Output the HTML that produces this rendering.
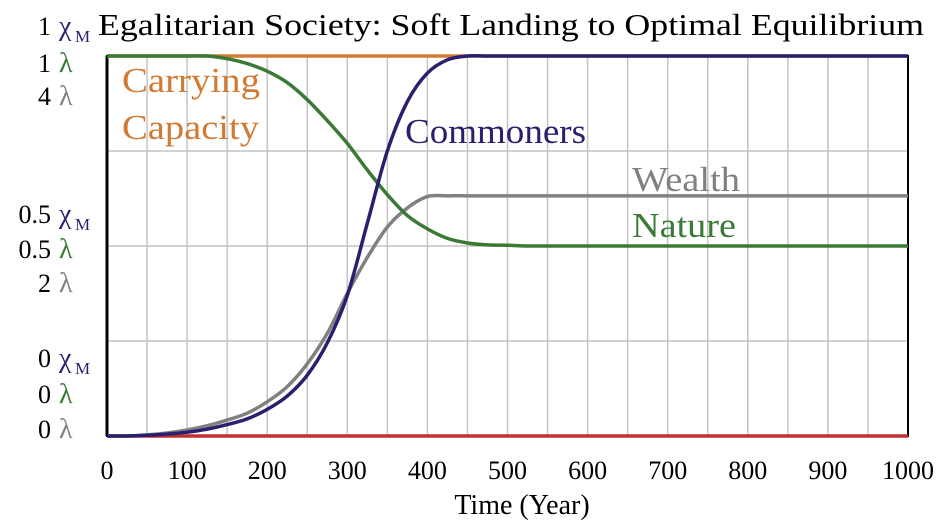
<!DOCTYPE html>
<html><head><meta charset="utf-8"><style>
body{margin:0;background:#fff}
svg text{font-family:"Liberation Serif",serif}
</style></head><body>
<svg id="c" width="950" height="525">
<text x="98" y="35" font-size="31" fill="#000" textLength="826" lengthAdjust="spacingAndGlyphs">Egalitarian Society: Soft Landing to Optimal Equilibrium</text>
<g id="grid"></g>
<g id="left" font-size="26"></g>
<g id="series"></g>
<g id="xt" font-size="26"></g>
<text x="522" y="514" font-size="28" text-anchor="middle">Time (Year)</text>
<text x="122" y="92" font-size="35" fill="#d27a32" textLength="138" lengthAdjust="spacingAndGlyphs">Carrying</text>
<text x="122" y="139" font-size="35" fill="#d27a32" textLength="137" lengthAdjust="spacingAndGlyphs">Capacity</text>
<text x="405" y="143" font-size="35" fill="#2a1f6e" textLength="181" lengthAdjust="spacingAndGlyphs">Commoners</text>
<text x="632" y="191" font-size="35" fill="#808080" textLength="108" lengthAdjust="spacingAndGlyphs">Wealth</text>
<text x="632" y="237" font-size="35" fill="#3a7a35" textLength="104" lengthAdjust="spacingAndGlyphs">Nature</text>
</svg>
<script>
const years=[0,25,50,75,100,125,150,175,200,225,250,275,300,325,350,375,400,425,450,475,500,525,550,600,700,800,900,1000];
const commoners=[0,0,0.002,0.005,0.01,0.018,0.03,0.045,0.07,0.105,0.16,0.245,0.37,0.56,0.75,0.88,0.955,0.99,1,1,1,1,1,1,1,1,1,1];
const wealth=[0,0,0.003,0.008,0.016,0.027,0.042,0.06,0.09,0.13,0.19,0.27,0.375,0.47,0.55,0.6,0.63,0.632,0.632,0.632,0.632,0.632,0.632,0.632,0.632,0.632,0.632,0.632];
const nature=[1,1,1,1,1,1,0.993,0.98,0.96,0.93,0.885,0.83,0.77,0.7,0.635,0.58,0.545,0.52,0.508,0.503,0.502,0.5,0.5,0.5,0.5,0.5,0.5,0.5];
const carrying=[1,1,1,1,1,1,1,1,1,1,1,1,1,1,1,1,1,1,1,1,1,1,1,1,1,1,1,1];
const redLine=[0,0,0,0,0,0,0,0,0,0,0,0,0,0,0,0,0,0,0,0,0,0,0,0,0,0,0,0];
const xTicks=[0,100,200,300,400,500,600,700,800,900,1000];
const X0=107,X1=908,Y0=436,Y1=56;
const sx=v=>X0+(X1-X0)*v/1000, sy=v=>Y0-(Y0-Y1)*v;
const NS="http://www.w3.org/2000/svg";
function mk(tag,attrs,parent){const e=document.createElementNS(NS,tag);for(const k in attrs)e.setAttribute(k,attrs[k]);parent.appendChild(e);return e;}
const grid=document.getElementById('grid');
for(let y=50;y<1000;y+=50){const l=mk('line',{x1:sx(y),x2:sx(y),y1:Y1,y2:Y0,stroke:'#c4c4c4','stroke-width':1.5},grid);

}
for(const f of [0.25,0.5,0.75]){const l=mk('line',{x1:X0,x2:X1,y1:sy(f),y2:sy(f),stroke:'#c4c4c4','stroke-width':1.5},grid);

}
const fr=mk('rect',{x:X0,y:Y1,width:X1-X0,height:Y0-Y1,fill:'none',stroke:'#000','stroke-width':2},grid);


const ax=mk('line',{x1:X0,x2:X0,y1:Y1,y2:Y0,stroke:'#000','stroke-width':3},grid);


const xt=document.getElementById('xt');
xTicks.forEach(t=>{const e=mk('text',{x:sx(t),y:479,'text-anchor':'middle'},xt);e.textContent=t;

});
const left=document.getElementById('left');
const lab=[[35,'1','χ','#2a1f6e',true],[72,'1','λ','#3a7a35'],[105,'4','λ','#808080'],[223,'0.5','χ','#2a1f6e',true],[258,'0.5','λ','#3a7a35'],[292,'2','λ','#808080'],[367,'0','χ','#2a1f6e',true],[403,'0','λ','#3a7a35'],[438,'0','λ','#808080']];
lab.forEach(a=>{const t=mk('text',{x:51,y:a[0],'text-anchor':'end'},left);t.textContent=a[1];


const s=mk('text',{x:59,y:a[0],fill:a[3],'font-size':28},left);s.textContent=a[2];


if(a[4]){const m=mk('text',{x:75,y:a[0]+7,fill:a[3],'font-size':17},left);m.textContent='M';

}});
function path(vals){const p=years.map((y,i)=>[sx(y),sy(vals[i])]);let d='M'+p[0][0]+','+p[0][1];
for(let i=0;i<p.length-1;i++){const p0=p[Math.max(0,i-1)],p1=p[i],p2=p[i+1],p3=p[Math.min(p.length-1,i+2)];
const c1=[p1[0]+(p2[0]-p0[0])/6,p1[1]+(p2[1]-p0[1])/6],c2=[p2[0]-(p3[0]-p1[0])/6,p2[1]-(p3[1]-p1[1])/6];
d+=` C${c1[0]},${c1[1]} ${c2[0]},${c2[1]} ${p2[0]},${p2[1]}`;}return d;}
const ser=document.getElementById('series');
[[carrying,'#d27a32','carrying-capacity-line'],[redLine,'#c03030','zero-line'],[wealth,'#808080','wealth-line'],[nature,'#3a7a35','nature-line'],[commoners,'#2a1f6e','commoners-line']].forEach(s=>{
const e=mk('path',{d:path(s[0]),fill:'none',stroke:s[1],'stroke-width':3.5},ser);

});
</script>
</body></html>
